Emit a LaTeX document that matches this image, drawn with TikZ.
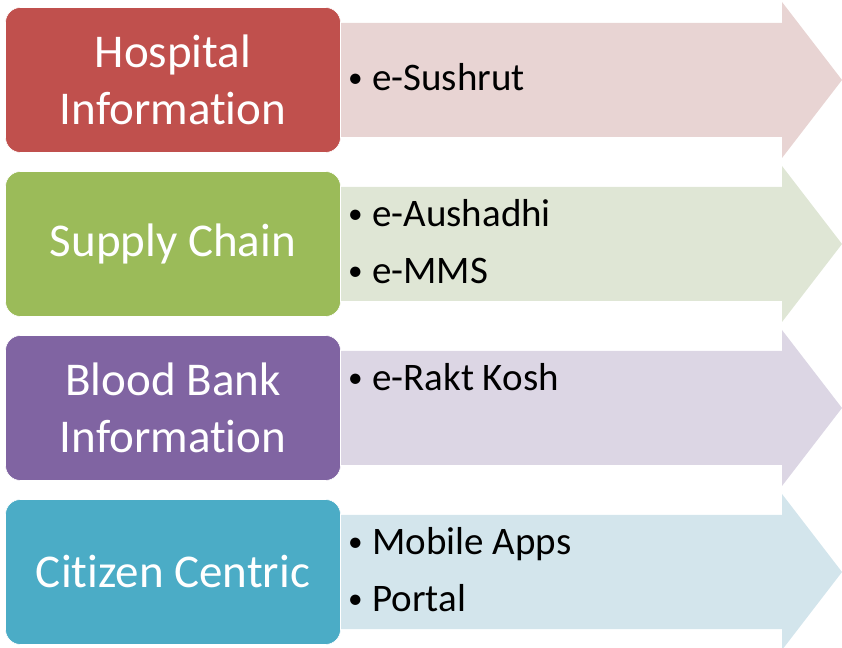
\documentclass[tikz,border=0pt]{standalone}
\usepackage{fontspec}
\setmainfont[Ligatures=NoCommon]{Carlito}
\definecolor{hospred}{HTML}{C0504D}
\definecolor{supgreen}{HTML}{9BBB59}
\definecolor{bloodviolet}{HTML}{8064A2}
\definecolor{citcyan}{HTML}{4BACC6}
\definecolor{hospredlt}{HTML}{E8D4D3}
\definecolor{supgreenlt}{HTML}{DFE6D5}
\definecolor{bloodvioletlt}{HTML}{DCD6E4}
\definecolor{citcyanlt}{HTML}{D3E5EC}
\newcommand{\bul}{\makebox[25pt][l]{\hspace{1pt}\raisebox{3pt}{\scalebox{0.75}{•}}}}
\begin{document}
\begin{tikzpicture}[x=1pt,y=1pt,
  catbox/.style={rounded corners=15pt,draw=white,line width=0.6pt,minimum width=335pt,minimum height=145pt,
    text=white,align=center,font=\fontsize{47}{57}\selectfont,inner sep=0pt},
  item/.style={anchor=base west,inner sep=0pt,font=\fontsize{39}{47}\selectfont}]
\useasboundingbox (0,0) rectangle (842,647);
%
\foreach \i/\c in {0/hospredlt,1/supgreenlt,2/bloodvioletlt,3/citcyanlt}{
\pgfmathsetmacro{\yc}{567-164*\i}
\fill[\c](330,\yc+57)--(782,\yc+57)--(782,\yc+78)--(842,\yc)--(782,\yc-78)--(782,\yc-57)--(330,\yc-57)--cycle;
}
%
\node[catbox,fill=hospred](hosp)at(173,567){Hospital\\Information};
\node[catbox,fill=supgreen](supply)at(173,403){Supply Chain};
\node[catbox,fill=bloodviolet](blood)at(173,239){Blood Bank\\Information};
\node[catbox,fill=citcyan](citizen)at(173,75){Citizen Centric};
%
\node[item](sushrut)at(347,556){\bul e-Sushrut};
\node[item](aushadhi)at(347,420){\bul e-Aushadhi};
\node[item](mms)at(347,363){\bul e-MMS};
\node[item](rakt)at(347,256){\bul e-Rakt Kosh};
\node[item](apps)at(347,92){\bul Mobile Apps};
\node[item](portal)at(347,35){\bul Portal};
\end{tikzpicture}
\end{document}
